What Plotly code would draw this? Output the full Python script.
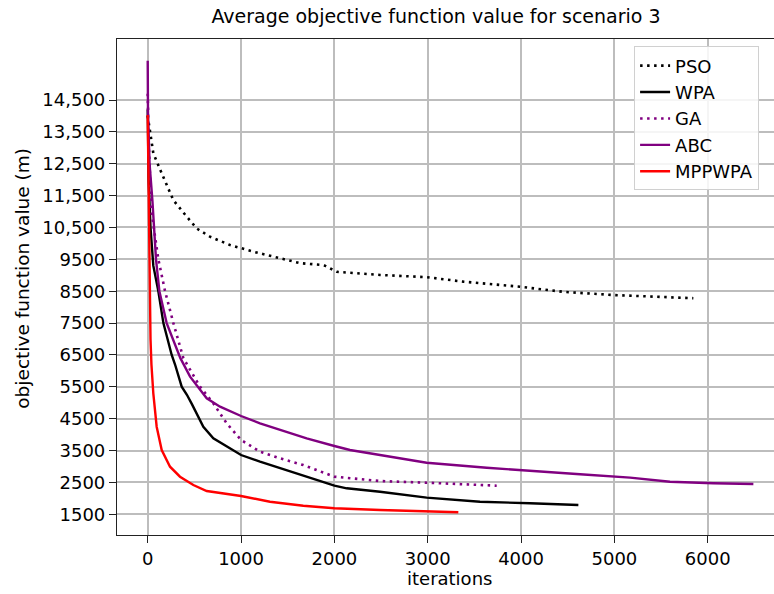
import plotly.graph_objects as go

# ---- data ----
pso_iter = [0, 25, 60, 150, 274, 418, 525, 667, 882, 1132, 1418, 1632, 1846, 1900, 2025, 2489, 2989, 3382, 3989, 4453, 4989, 5525, 5846]
pso_val = [14000, 13460, 12830, 12200, 11360, 10840, 10470, 10210, 9950, 9740, 9530, 9380, 9330, 9300, 9110, 9010, 8940, 8800, 8640, 8480, 8380, 8330, 8280]

wpa_iter = [0, 10, 30, 60, 114, 168, 257, 293, 364, 420, 475, 525, 596, 703, 846, 1000, 1203, 1418, 1667, 2000, 2132, 2489, 2989, 3560, 4096, 4614]
wpa_val = [14200, 12000, 10500, 9300, 8500, 7500, 6500, 6200, 5504, 5250, 4950, 4668, 4248, 3884, 3620, 3360, 3150, 2943, 2701, 2400, 2315, 2209, 2021, 1895, 1844, 1791]

ga_iter = [0, 10, 40, 114, 186, 275, 382, 560, 703, 846, 1000, 1203, 1418, 1667, 2000, 2489, 2989, 3382, 3739]
ga_val = [14700, 13200, 11000, 9500, 8500, 7500, 6400, 5504, 4982, 4354, 3832, 3464, 3255, 3046, 2679, 2544, 2491, 2450, 2397]

abc_iter = [0, 3, 20, 50, 89, 125, 203, 350, 454, 632, 775, 1000, 1203, 1418, 1703, 2000, 2167, 2489, 2989, 3632, 4096, 4632, 5168, 5596, 6060, 6489]
abc_val = [15730, 14100, 12500, 11360, 9500, 8500, 7500, 6400, 5818, 5140, 4876, 4584, 4354, 4145, 3884, 3642, 3517, 3360, 3118, 2961, 2857, 2754, 2649, 2523, 2472, 2450]

mpp_iter = [0, 5, 10, 20, 30, 40, 60, 96, 150, 239, 346, 489, 632, 1000, 1310, 1667, 2000, 2489, 2989, 3328]
mpp_val = [14030, 12500, 11360, 8500, 7000, 6200, 5296, 4248, 3517, 2993, 2679, 2419, 2230, 2073, 1895, 1769, 1688, 1634, 1581, 1562]

y_ticks = [1500, 2500, 3500, 4500, 5500, 6500, 7500, 8500, 9500, 10500, 11500, 12500, 13500, 14500]
y_tick_text = ["1500", "2500", "3500", "4500", "5500", "6500", "7500", "8500", "9500",
               "10,500", "11,500", "12,500", "13,500", "14,500"]
x_ticks = [0, 1000, 2000, 3000, 4000, 5000, 6000]

FONT = "DejaVu Sans"
DOT = "2.5px,4.5px"
W, H = 774, 594
L, R, T, B = 117, 0, 39, 59
PW, PH = W - L - R, H - T - B

fig = go.Figure()
fig.add_trace(go.Scatter(x=pso_iter, y=pso_val, mode="lines", name="PSO",
                         line=dict(color="black", width=2.6, dash=DOT)))
fig.add_trace(go.Scatter(x=wpa_iter, y=wpa_val, mode="lines", name="WPA",
                         line=dict(color="black", width=2.4)))
fig.add_trace(go.Scatter(x=ga_iter, y=ga_val, mode="lines", name="GA",
                         line=dict(color="#800080", width=2.6, dash=DOT)))
fig.add_trace(go.Scatter(x=abc_iter, y=abc_val, mode="lines", name="ABC",
                         line=dict(color="#800080", width=2.4)))
fig.add_trace(go.Scatter(x=mpp_iter, y=mpp_val, mode="lines", name="MPPWPA",
                         line=dict(color="#ff0000", width=2.4)))

fig.update_layout(
    width=W, height=H,
    margin=dict(l=L, r=R, t=T, b=B),
    paper_bgcolor="white", plot_bgcolor="white",
    font=dict(family=FONT, size=18, color="black"),
    title=dict(text="Average objective function value for scenario 3",
               x=436 / W, xanchor="center", y=1 - 16 / H, yanchor="middle",
               font=dict(family=FONT, size=19, color="black")),
    showlegend=True,
    legend=dict(x=(765 - L) / PW - 0.009, y=0.985, xanchor="right", yanchor="top",
                bgcolor="rgba(255,255,255,0.85)", bordercolor="#d0d0d0", borderwidth=1,
                font=dict(family=FONT, size=18, color="black")),
    annotations=[
        dict(text="objective function value (m)", textangle=-90,
             xref="paper", yref="paper", x=(21.7 - L) / PW, y=1 - (278 - T) / PH,
             xanchor="center", yanchor="middle", showarrow=False,
             font=dict(family=FONT, size=18.5, color="black")),
        dict(text="iterations",
             xref="paper", yref="paper", x=(449 - L) / PW, y=1 - (578 - T) / PH,
             xanchor="center", yanchor="middle", showarrow=False,
             font=dict(family=FONT, size=18, color="black")),
    ],
)

fig.update_xaxes(
    range=[-329, 6710], tickmode="array", tickvals=x_ticks,
    ticks="outside", ticklen=7, tickwidth=1.2, tickcolor="#222",
    showline=True, linecolor="#222", linewidth=1.2, mirror=True,
    showgrid=True, gridcolor="#bdbdbd", gridwidth=1.6, zeroline=False,
    tickfont=dict(family=FONT, size=18, color="black"),
)
fig.update_yaxes(
    range=[850, 16414], tickmode="array", tickvals=y_ticks, ticktext=y_tick_text,
    ticks="outside", ticklen=7, tickwidth=1.2, tickcolor="#222",
    showline=True, linecolor="#222", linewidth=1.2, mirror=False,
    showgrid=True, gridcolor="#bdbdbd", gridwidth=1.6, zeroline=False,
    tickfont=dict(family=FONT, size=18, color="black"),
)

fig.write_html("out.html")
